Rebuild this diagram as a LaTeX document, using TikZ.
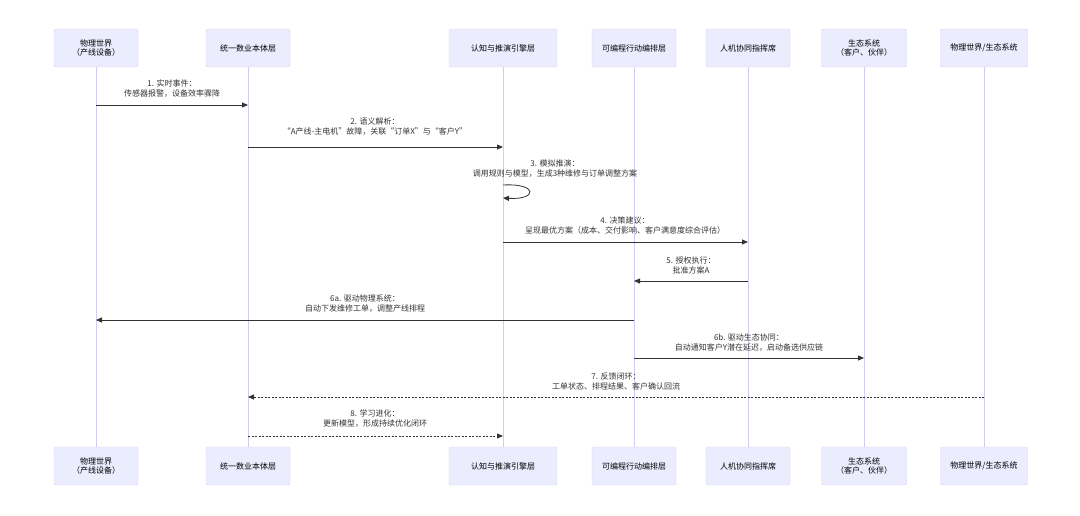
\documentclass[tikz,border=0pt]{standalone}
\usepackage{fontspec}
\setmainfont{Noto Sans CJK SC}
\usetikzlibrary{arrows.meta}
\definecolor{boxfill}{HTML}{ECECFF}
\definecolor{boxline}{HTML}{D6D2F5}
\definecolor{life}{HTML}{D0CCF5}
\definecolor{msg}{HTML}{333333}
\begin{document}
\begin{tikzpicture}[x=1pt,y=-1pt,
  actor/.style={draw=boxline,fill=boxfill,rounded corners=1.5pt,minimum height=38pt,align=center,font=\fontsize{8}{8.5}\selectfont,inner sep=2pt},
  lbl/.style={align=center,font=\fontsize{8}{10}\selectfont,text=msg,inner sep=0pt},
  m/.style={draw=msg,line width=0.8pt,-{Triangle[length=6pt,width=5pt]}},
  d/.style={m,dash pattern=on 2pt off 1.5pt}]
\useasboundingbox (0,0) rectangle (1080,515);
\def\ya{48}\def\yb{466}
\foreach \n/\x/\w/\t in {a/96/84/{物理世界\\（产线设备）},b/248/84/{统一数业本体层},c/503/108/{认知与推演引擎层},d/634/84/{可编程行动编排层},e/748/84/{人机协同指挥席},f/864/85/{生态系统\\（客户、伙伴）},g/984/87/{物理世界/生态系统}}{
  \draw[life,line width=0.8pt] (\x,67) -- (\x,447);
  \node[actor,minimum width=\w pt] (\n1) at (\x,\ya) {\t};
  \node[actor,minimum width=\w pt] (\n2) at (\x,\yb) {\t};
  \coordinate (\n) at (\x,0);
}
\newcommand\msgat[6]{%
  \coordinate (s#1) at (#2|-0,#4); \coordinate (t#1) at (#3|-0,#4);
}
% helper coordinates on lifelines
\foreach \n/\x in {a/96,b/248,c/503,d/634,e/748,f/864,g/984}{
  \foreach \k/\y in {1/105,2/147,3/185,4/242,5/281,6/320,7/358,8/397,9/436}{
    \coordinate (\n\k) at (\x,\y);
  }
}
\node[lbl] (l1) at (172,89) {1. 实时事件：\\传感器报警，设备效率骤降};
\draw[m] (a1) -- (b1);
\node[lbl] (l2) at (375,127) {2. 语义解析：\\“A产线-主电机”故障，关联“订单X”与“客户Y”};
\draw[m] (b2) -- (c2);
\node[lbl] (l3) at (555,169) {3. 模拟推演：\\调用规则与模型，生成3种维修与订单调整方案};
\coordinate (c3b) at (503,198);
\draw[m] (c3) .. controls (538,183) and (538,200) .. (c3b);
\node[lbl] (l4) at (625,226) {4. 决策建议：\\呈现最优方案（成本、交付影响、客户满意度综合评估）};
\draw[m] (c4) -- (e4);
\node[lbl] (l5) at (691,265) {5. 授权执行：\\批准方案A};
\draw[m] (e5) -- (d5);
\node[lbl] (l6) at (365,304) {6a. 驱动物理系统：\\自动下发维修工单，调整产线排程};
\draw[m] (d6) -- (a6);
\node[lbl] (l7) at (749,343) {6b. 驱动生态协同：\\自动通知客户Y潜在延迟，启动备选供应链};
\draw[m] (d7) -- (f7);
\node[lbl] (l8) at (616,381) {7. 反馈闭环：\\工单状态、排程结果、客户确认回流};
\draw[d] (g8) -- (b8);
\node[lbl] (l9) at (375,419) {8. 学习进化：\\更新模型，形成持续优化闭环};
\draw[d] (b9) -- (c9);
\end{tikzpicture}
\end{document}
